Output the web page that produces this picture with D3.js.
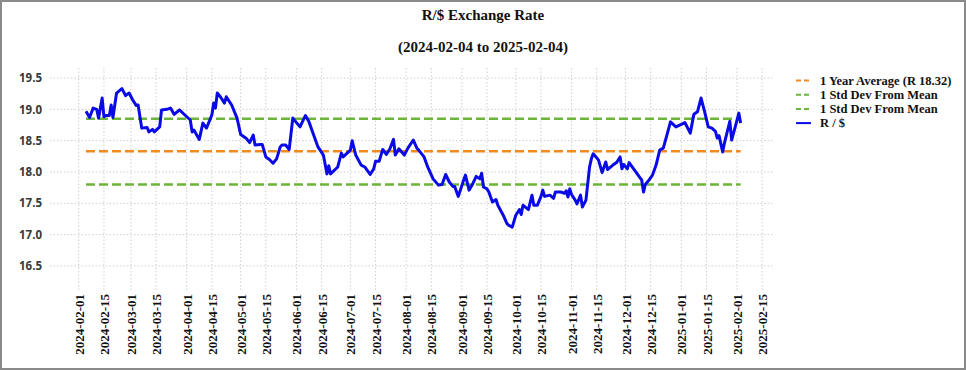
<!DOCTYPE html>
<html>
<head>
<meta charset="utf-8">
<script src="https://cdn.jsdelivr.net/npm/d3@7"></script>
<style>
  body { margin: 0; background: #fff; }
  svg { display: block; }
</style>
</head>
<body>
<svg id="chart" width="966" height="370"></svg>
<script>
// R/$ daily closes
let rateDates = [
  "2024-02-05","2024-02-07","2024-02-09","2024-02-11","2024-02-12","2024-02-14","2024-02-15","2024-02-16",
  "2024-02-18","2024-02-19","2024-02-20","2024-02-22","2024-02-25","2024-02-27","2024-02-29","2024-03-02",
  "2024-03-04","2024-03-05","2024-03-07","2024-03-10","2024-03-11","2024-03-13","2024-03-14","2024-03-17",
  "2024-03-18","2024-03-21","2024-03-23","2024-03-25","2024-03-28","2024-03-31","2024-04-03","2024-04-04",
  "2024-04-05","2024-04-08","2024-04-10","2024-04-12","2024-04-15","2024-04-16","2024-04-17","2024-04-18",
  "2024-04-20","2024-04-22","2024-04-23","2024-04-26","2024-04-29","2024-05-01","2024-05-04","2024-05-06",
  "2024-05-08","2024-05-09","2024-05-12","2024-05-13","2024-05-15","2024-05-17","2024-05-19","2024-05-21",
  "2024-05-23","2024-05-24","2024-05-26","2024-05-28","2024-05-30","2024-06-03","2024-06-06","2024-06-08",
  "2024-06-10","2024-06-13","2024-06-16","2024-06-18","2024-06-19","2024-06-20","2024-06-24","2024-06-26",
  "2024-06-27","2024-07-01","2024-07-02","2024-07-04","2024-07-07","2024-07-09","2024-07-12","2024-07-14",
  "2024-07-15","2024-07-17","2024-07-19","2024-07-21","2024-07-23","2024-07-25","2024-07-26","2024-07-28",
  "2024-07-31","2024-08-02","2024-08-05","2024-08-07","2024-08-08","2024-08-11","2024-08-13","2024-08-16",
  "2024-08-19","2024-08-21","2024-08-23","2024-08-25","2024-08-27","2024-08-28","2024-08-30","2024-09-02",
  "2024-09-03","2024-09-05","2024-09-07","2024-09-09","2024-09-11","2024-09-12","2024-09-13","2024-09-15",
  "2024-09-16","2024-09-18","2024-09-20","2024-09-21","2024-09-24","2024-09-26","2024-09-27","2024-09-29",
  "2024-10-01","2024-10-03","2024-10-04","2024-10-05","2024-10-08","2024-10-10","2024-10-11","2024-10-13",
  "2024-10-15","2024-10-16","2024-10-17","2024-10-20","2024-10-22","2024-10-23","2024-10-26","2024-10-28",
  "2024-10-29","2024-10-30","2024-10-31","2024-11-01","2024-11-03","2024-11-04","2024-11-06","2024-11-07",
  "2024-11-09","2024-11-11","2024-11-12","2024-11-13","2024-11-14","2024-11-16","2024-11-18","2024-11-20",
  "2024-11-21","2024-11-24","2024-11-26","2024-11-28","2024-11-29","2024-11-30","2024-12-02","2024-12-03",
  "2024-12-04","2024-12-07","2024-12-10","2024-12-11","2024-12-12","2024-12-14","2024-12-16","2024-12-18",
  "2024-12-20","2024-12-22","2024-12-24","2024-12-26","2024-12-29","2025-01-01","2025-01-03","2025-01-06",
  "2025-01-08","2025-01-10","2025-01-12","2025-01-14","2025-01-16","2025-01-18","2025-01-20","2025-01-21",
  "2025-01-22","2025-01-24","2025-01-25","2025-01-28","2025-01-29","2025-01-31","2025-02-02","2025-02-03"
];
let rateValues = [
  18.97,18.87,19.02,19.00,18.86,19.18,18.88,18.90,
  18.90,19.07,18.87,19.26,19.33,19.22,19.26,19.15,
  19.06,19.07,18.70,18.71,18.64,18.68,18.64,18.72,
  18.99,19.00,19.02,18.92,18.99,18.91,18.83,18.64,
  18.67,18.52,18.78,18.70,18.91,19.10,19.02,19.26,
  19.19,19.10,19.20,19.07,18.86,18.60,18.54,18.47,
  18.59,18.43,18.44,18.44,18.24,18.20,18.14,18.21,
  18.40,18.43,18.43,18.36,18.86,18.72,18.90,18.80,
  18.64,18.40,18.27,17.97,18.10,17.97,18.08,18.30,
  18.24,18.35,18.50,18.27,18.11,18.08,17.96,18.05,
  18.17,18.17,18.36,18.28,18.37,18.52,18.27,18.37,
  18.27,18.38,18.51,18.38,18.35,18.24,18.08,17.89,
  17.79,17.80,17.96,17.84,17.77,17.77,17.61,17.87,
  17.95,17.71,17.81,17.93,17.89,17.98,17.76,17.73,
  17.68,17.52,17.56,17.47,17.31,17.18,17.15,17.12,
  17.31,17.40,17.32,17.47,17.40,17.63,17.47,17.47,
  17.61,17.71,17.61,17.63,17.58,17.68,17.68,17.66,
  17.70,17.60,17.73,17.64,17.55,17.49,17.63,17.44,
  17.55,18.08,18.21,18.29,18.26,18.19,17.99,18.16,
  18.04,18.11,18.15,18.24,18.05,18.12,18.05,18.15,
  18.11,17.99,17.87,17.68,17.80,17.87,17.95,18.11,
  18.35,18.38,18.59,18.80,18.72,18.76,18.79,18.62,
  18.92,18.96,19.18,18.96,18.72,18.70,18.65,18.54,
  18.58,18.32,18.46,18.81,18.51,18.72,18.94,18.78
];

let avgRate = 18.33;
let stdUpper = 18.85;
let stdLower = 17.80;

let xTickLabels = [
  "2024-02-01","2024-02-15","2024-03-01","2024-03-15","2024-04-01","2024-04-15","2024-05-01",
  "2024-05-15","2024-06-01","2024-06-15","2024-07-01","2024-07-15","2024-08-01","2024-08-15",
  "2024-09-01","2024-09-15","2024-10-01","2024-10-15","2024-11-01","2024-11-15","2024-12-01",
  "2024-12-15","2025-01-01","2025-01-15","2025-02-01","2025-02-15"
];
let yTicks = [16.5, 17.0, 17.5, 18.0, 18.5, 19.0, 19.5];

let legendLabels = ["1 Year Average (R 18.32)", "1 Std Dev From Mean", "1 Std Dev From Mean", "R / $"];

let orange = "#f28a22";
let green = "#6cb43a";
let blue = "#0a0ae6";

let parse = d3.utcParse("%Y-%m-%d");
let rates = rateDates.map((d, i) => ({date: parse(d), value: rateValues[i]}));

let svg = d3.select("#chart");

// outer frame
svg.append("rect")
   .attr("x", 1).attr("y", 1)
   .attr("width", 964).attr("height", 368)
   .attr("fill", "#fff")
   .attr("stroke", "#8a8a8a")
   .attr("stroke-width", 2);

let x = d3.scaleUtc()
          .domain([parse("2024-01-16"), parse("2025-02-21")])
          .range([50, 773]);
let y = d3.scaleLinear()
          .domain([16.1, 19.66])
          .range([291, 68]);

// grid
let xTicks = xTickLabels.map(parse);
svg.append("g")
   .selectAll("line")
   .data(xTicks)
   .enter()
   .append("line")
   .attr("x1", d => x(d)).attr("x2", d => x(d))
   .attr("y1", 68).attr("y2", 291)
   .attr("stroke", "#cfcfcf")
   .attr("stroke-dasharray", "1.5,2");
svg.append("g")
   .selectAll("line")
   .data(yTicks)
   .enter()
   .append("line")
   .attr("x1", 50).attr("x2", 773)
   .attr("y1", d => y(d)).attr("y2", d => y(d))
   .attr("stroke", "#cfcfcf")
   .attr("stroke-dasharray", "1.5,2");

// axes (labels only, no spines)
let yAxis = svg.append("g")
   .attr("transform", "translate(50,0)")
   .call(d3.axisLeft(y).tickValues(yTicks).tickFormat(d3.format(".1f")).tickSize(0).tickPadding(8));
yAxis.select(".domain").remove();
yAxis.selectAll("text")
     .attr("font-family", "'Open Sans', sans-serif")
     .attr("font-weight", 700)
     .attr("font-size", 11.5)
     .attr("fill", "#3a3a3a");

let xAxis = svg.append("g")
   .attr("transform", "translate(0,291)")
   .call(d3.axisBottom(x).tickValues(xTicks).tickFormat(d3.utcFormat("%Y-%m-%d")).tickSize(0));
xAxis.select(".domain").remove();
xAxis.selectAll("text")
     .attr("font-family", "'Liberation Serif', serif")
     .attr("font-weight", 700)
     .attr("font-size", 13)
     .attr("fill", "#111")
     .attr("text-anchor", "end")
     .attr("transform", "rotate(-90)")
     .attr("x", -3)
     .attr("y", 0)
     .attr("dy", "0.35em");

// reference lines
let first = rates[0].date, last = rates[rates.length - 1].date;
[[avgRate, orange], [stdUpper, green], [stdLower, green]].forEach(function(r){
  svg.append("line")
     .attr("x1", x(first)).attr("x2", x(last))
     .attr("y1", y(r[0])).attr("y2", y(r[0]))
     .attr("stroke", r[1])
     .attr("stroke-width", 2.5)
     .attr("stroke-dasharray", "9,4");
});

// rate line
let line = d3.line().x(d => x(d.date)).y(d => y(d.value));
svg.append("path")
   .datum(rates)
   .attr("d", line)
   .attr("fill", "none")
   .attr("stroke", blue)
   .attr("stroke-width", 3)
   .attr("stroke-linejoin", "round");

// titles
svg.append("text")
   .attr("x", 483).attr("y", 20)
   .attr("text-anchor", "middle")
   .attr("font-family", "'Liberation Serif', serif")
   .attr("font-weight", 700)
   .attr("font-size", 15)
   .attr("fill", "#111")
   .text("R/$  Exchange Rate");
svg.append("text")
   .attr("x", 483).attr("y", 52)
   .attr("text-anchor", "middle")
   .attr("font-family", "'Liberation Serif', serif")
   .attr("font-weight", 700)
   .attr("font-size", 15)
   .attr("fill", "#111")
   .text("(2024-02-04 to 2025-02-04)");

// legend
let legendColors = [orange, green, green, blue];
let legend = svg.append("g")
   .selectAll("g")
   .data(legendLabels)
   .enter()
   .append("g")
   .attr("transform", (d, i) => `translate(796,${80.5 + i * 14.2})`);
legend.append("line")
      .attr("x1", 0).attr("x2", 15)
      .attr("stroke", (d, i) => legendColors[i])
      .attr("stroke-width", 2)
      .attr("stroke-dasharray", (d, i) => i < 3 ? "5,3" : null);
legend.append("text")
      .attr("x", 24)
      .attr("dy", "0.35em")
      .attr("font-family", "'Liberation Serif', serif")
      .attr("font-weight", 700)
      .attr("font-size", 12.5)
      .attr("fill", "#111")
      .text(d => d);
</script>
</body>
</html>
